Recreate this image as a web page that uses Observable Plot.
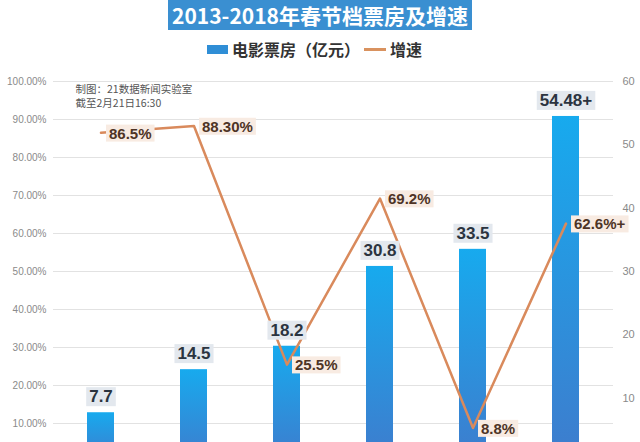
<!DOCTYPE html>
<html>
<head>
<meta charset="utf-8">
<script src="https://cdn.jsdelivr.net/npm/d3@7"></script>
<script src="https://cdn.jsdelivr.net/npm/@observablehq/plot@0.6"></script>
<style>
  html, body { margin: 0; padding: 0; width: 640px; height: 442px; overflow: hidden; background: #fff; }
  body { position: relative; font-family: "Noto Sans CJK SC", "Noto Sans", sans-serif; }
  #titlewrap { position: absolute; left: 0; top: 0; width: 640px; text-align: center; }
  #title { display: inline-block; padding: 0 4px; height: 30px; background: #3a8fd1; color: #fff;
    font-weight: bold; font-size: 21px; line-height: 30px; white-space: nowrap; }
  #legend { position: absolute; left: 207px; top: 38px; height: 22px; display: flex; align-items: center; font-size: 16px;
    font-weight: bold; color: #333; white-space: nowrap; }
  #legend .sw { display: inline-block; width: 21px; height: 9px; background: #2f8ed6; margin-right: 4px; }
  #legend .ln { display: inline-block; width: 22px; height: 3px; background: #d9925f; margin: 0 4px 0 4px; }
  #chart { position: absolute; left: 0; top: 62px; }
</style>
</head>
<body>
<div id="titlewrap"><div id="title"></div></div>
<div id="legend"></div>
<div id="chart"></div>
<script>
const titleText = "2013-2018年春节档票房及增速";
const legendBar = "电影票房（亿元）";
const legendLine = "增速";
const noteText = "制图：21数据新闻实验室\n截至2月21日16:30";

const years = ["2013", "2014", "2015", "2016", "2017", "2018"];
const boxOffice = [7.7, 14.5, 18.2, 30.8, 33.5, 54.48];
const boxLabels = ["7.7", "14.5", "18.2", "30.8", "33.5", "54.48+"];
const growth = [86.5, 88.3, 25.5, 69.2, 8.8, 62.6];
const growthLabels = ["86.5%", "88.30%", "25.5%", "69.2%", "8.8%", "62.6%+"];
const leftTicks = [10, 20, 30, 40, 50, 60, 70, 80, 90, 100]; // percent
const rightTicks = [10, 20, 30, 40, 50, 60];

document.getElementById("title").textContent = titleText;
document.getElementById("legend").innerHTML =
  `<span class="sw"></span><span>${legendBar}</span><span class="ln"></span><span>${legendLine}</span>`;

const data = years.map((y, i) => ({
  year: y, box: boxOffice[i], boxLabel: boxLabels[i], rate: growth[i], rateLabel: growthLabels[i]
}));

// growth (0–100%) shares the frame with box office (0–60)
const pct = p => p * 0.6;

const gradient = () => {
  const ns = "http://www.w3.org/2000/svg";
  const defs = document.createElementNS(ns, "defs");
  defs.innerHTML = `<linearGradient id="barGrad" x1="0" y1="0" x2="0" y2="1">
      <stop offset="0" stop-color="#17aaee"/><stop offset="1" stop-color="#3e7ccd"/></linearGradient>`;
  return defs;
};

const W = 640, H = 399;
const chart = Plot.plot({
  width: W,
  height: H,
  marginTop: 19,
  marginBottom: 0,
  marginLeft: 53,
  marginRight: 27,
  style: { fontFamily: "'Liberation Sans', Arial, sans-serif", background: "transparent", overflow: "visible" },
  x: { type: "band", domain: years, paddingInner: 0.71, paddingOuter: 0.355, axis: null },
  y: { domain: [0, 60], axis: null },
  marks: [
    gradient,
    Plot.gridY(leftTicks.map(pct), { stroke: "#e2e2e2", strokeOpacity: 1, strokeWidth: 1 }),
    Plot.axisY(leftTicks.map(pct), { anchor: "left", label: null, tickSize: 0, tickPadding: 7, fontSize: 10, fill: "#8a8a8a",
      tickFormat: d => (d / 0.6).toFixed(2) + "%" }),
    Plot.axisY(rightTicks, { anchor: "right", label: null, tickSize: 0, tickPadding: 9, fontSize: 11, fill: "#8a8a8a",
      tickFormat: d => String(d) }),
    Plot.barY(data, { x: "year", y: "box", fill: "url(#barGrad)" }),
    Plot.lineY(data, { x: "year", y: d => pct(d.rate), stroke: "#d98a5c", strokeWidth: 2.5 }),
    Plot.text(data, { x: "year", y: "box", text: "boxLabel", dy: -16, fontSize: 17, fontWeight: "bold",
      fill: "#2b3440" }),
    Plot.text(data, { x: "year", y: d => pct(d.rate), text: "rateLabel", dx: 8, dy: 1, textAnchor: "start",
      fontSize: 15, fontWeight: "bold", fill: "#4e3426" }),
    Plot.text([noteText], { frameAnchor: "top-left", dx: 22, dy: 1, lineAnchor: "top", lineHeight: 1.35,
      fontSize: 10.5, fill: "#555", textAnchor: "start", fontFamily: "'Noto Sans CJK SC', sans-serif" })
  ]
});

document.getElementById("chart").appendChild(chart);

// label background boxes
function boxes(labels, color) {
  chart.querySelectorAll("text").forEach(t => {
    if (!labels.includes(t.textContent)) return;
    const b = t.getBBox();
    const r = document.createElementNS("http://www.w3.org/2000/svg", "rect");
    r.setAttribute("x", b.x - 3);
    r.setAttribute("y", b.y);
    r.setAttribute("width", b.width + 6);
    r.setAttribute("height", b.height);
    r.setAttribute("fill", color);
    const tr = t.getAttribute("transform");
    if (tr) r.setAttribute("transform", tr);
    t.parentNode.insertBefore(r, t);
  });
}
boxes(boxLabels, "#e3e8ee");
boxes(growthLabels, "#f8ebe2");
</script>
</body>
</html>
